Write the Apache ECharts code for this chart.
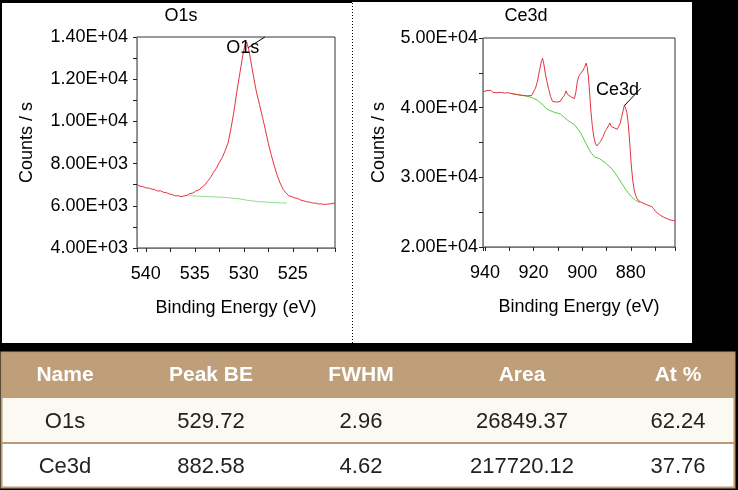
<!DOCTYPE html>
<html>
<head>
<meta charset="utf-8">
<script src="https://cdn.jsdelivr.net/npm/echarts@6/dist/echarts.min.js"></script>
<style>
html,body{margin:0;padding:0;background:#000;}
#chart{width:738px;height:490px;}
</style>
</head>
<body>
<div id="chart"></div>
<script>
// ---------- O1s spectrum ----------
var o1sEnergy = [540.9,540.6,540.3,540.0,539.7,539.4,539.1,538.8,538.5,538.2,537.9,537.6,537.3,537.0,536.7,536.4,536.1,535.8,535.5,535.2,534.9,534.6,534.3,534.0,533.7,533.4,533.1,532.8,532.5,532.2,531.9,531.6,531.3,531.0,530.7,530.4,530.1,529.9,529.72,529.5,529.3,529.0,528.7,528.4,528.1,527.8,527.5,527.2,526.9,526.6,526.3,526.0,525.7,525.4,525.1,524.8,524.5,524.2,523.9,523.6,523.3,523.0,522.7,522.4,522.1,521.8,521.5,521.2,520.9,520.7];
var o1sCounts = [7000,6930,6910,6850,6840,6790,6770,6700,6710,6640,6620,6560,6530,6470,6480,6430,6470,6490,6580,6600,6700,6750,6870,6980,7160,7340,7590,7780,8060,8290,8620,9000,9700,10500,11450,12300,13150,13600,13780,13400,12900,12100,11350,10800,10200,9600,8950,8400,7900,7450,7080,6780,6610,6470,6430,6370,6350,6270,6240,6190,6180,6130,6130,6090,6090,6060,6080,6090,6120,6130];
var o1sBgEnergy = [535.6,534.0,532.0,530.5,529.5,528.5,527.5,526.5,525.6];
var o1sBgCounts = [6480,6440,6400,6330,6250,6200,6170,6140,6130];

// ---------- Ce3d spectrum ----------
var ce3dEnergy = [940.7,940.0,939.2,938.4,937.6,936.8,936.0,935.2,934.4,933.6,932.8,932.0,931.2,930.4,929.6,928.8,928.0,927.2,926.4,925.6,924.8,924.0,923.2,922.4,921.6,920.8,920.0,919.2,918.4,917.6,916.8,916.3,915.8,915.2,914.6,913.8,913.0,912.2,911.4,910.6,909.8,909.0,908.2,907.4,906.6,906.0,905.4,904.8,904.0,903.2,902.6,902.0,901.4,900.8,900.2,899.6,899.0,898.4,897.9,897.4,896.9,896.4,895.8,895.2,894.6,894.0,893.4,892.8,892.2,891.6,891.0,890.4,889.8,889.2,888.6,888.0,887.4,886.8,886.2,885.6,885.0,884.4,883.8,883.2,882.6,882.2,881.6,881.0,880.4,879.8,879.2,878.6,878.0,877.4,876.8,876.2,875.4,874.6,873.8,873.0,872.2,871.4,870.6,869.8,869.0,868.2,867.4,866.6,865.8,865.0,864.2,863.4,862.6,861.8];
var ce3dCounts = [42300,42150,42450,42250,42500,42200,42400,42150,42350,42200,42300,42100,42250,42150,42300,42000,42150,41900,42050,41800,41950,41750,41850,41700,41800,41750,42000,42800,43800,45300,46600,47100,46300,45000,43900,42700,41600,40900,40750,40800,40600,40900,41400,41700,42400,41900,42000,41600,41400,41300,42200,43700,44500,44800,45100,45400,45800,46400,45800,44400,42000,39500,37300,35800,34900,34500,34700,35000,35300,35700,36200,36700,37000,37400,37800,37300,37500,37100,37000,36900,37000,37700,38600,39500,40400,40300,39300,37600,34800,31800,29600,28200,27400,26900,26700,26500,26350,26250,26400,26000,25900,25800,25500,25100,24950,24650,24500,24300,24200,24050,23950,23850,23900,23750];
var ce3dBgEnergy = [929.5,925.0,921.0,918.5,916.5,914.5,912.0,909.0,906.0,903.0,900.5,898.5,896.5,895.0,893.0,890.5,888.0,886.0,884.0,882.0,880.0,878.0,876.2];
var ce3dBgCounts = [42050,41800,41500,41100,40500,39800,39400,39100,38200,37500,36300,34900,33600,32950,32700,32100,31300,30400,29300,28200,27300,26700,26400];

// ---------- peak annotations ----------
var peakLabels = ['O1s','Ce3d'];
var peakLabelPos = [[530.1,13480],[885.5,42500]];
var peakLeader = [[[529.55,13500],[527.85,14000]],[[882.6,40300],[875.8,42800]]];

// ---------- panel titles / axis names ----------
var panelTitles = ['O1s','Ce3d'];
var xAxisName = 'Binding Energy (eV)';
var yAxisName = 'Counts / s';
var xRanges = [[520.7,540.9],[861.8,940.8]];
var yRanges = [[4000,14000],[20000,50000]];
var yIntervals = [2000,10000];

// ---------- quantification table ----------
var tableHeaders = ['Name','Peak BE','FWHM','Area','At %'];
var tableNames = ['O1s','Ce3d'];
var tablePeakBE = ['529.72','882.58'];
var tableFWHM = ['2.96','4.62'];
var tableArea = ['26849.37','217720.12'];
var tableAtPct = ['62.24','37.76'];

function zip(a,b){ return a.map(function(v,i){ return [v,b[i]]; }); }
function sci(v){
  if (v === 0) return '0.00E+00';
  var e = Math.floor(Math.log10(Math.abs(v)) + 1e-9);
  var m = v / Math.pow(10,e);
  return m.toFixed(2) + 'E' + (e<0?'-':'+') + (Math.abs(e)<10?'0':'') + Math.abs(e);
}

var FONT = 'Liberation Sans, Arial, sans-serif';
var chart = echarts.init(document.getElementById('chart'), null, {renderer:'canvas'});

var grids = [
  {left:137, top:37, width:198, height:211},
  {left:483, top:38, width:192, height:209}
];
grids.forEach(function(g){ g.show = true; g.borderColor = '#333'; g.borderWidth = 1; g.backgroundColor = 'transparent'; });

var bgColors = ['#8ee08e','#55d040'];
var tickStyle = {color:'#222', width:1};

var xAxes = [0,1].map(function(i){
  return {
    type:'value', gridIndex:i, inverse:true,
    min:xRanges[i][0], max:xRanges[i][1],
    name:xAxisName, nameLocation:'middle', nameGap:51,
    nameTextStyle:{fontFamily:FONT, fontSize:18, color:'#000'},
    axisLine:{show:true, lineStyle:{color:'#777', width:1}},
    axisTick:{show:true, inside:false, length:4, lineStyle:tickStyle},
    minorTick:{show:true, splitNumber:2, length:4, lineStyle:tickStyle},
    axisLabel:{showMinLabel:false, showMaxLabel:false, margin:17, fontFamily:FONT, fontSize:18, color:'#000'},
    splitLine:{show:false}
  };
});
var yAxes = [0,1].map(function(i){
  return {
    type:'value', gridIndex:i,
    min:yRanges[i][0], max:yRanges[i][1], interval:yIntervals[i],
    name:yAxisName, nameLocation:'middle', nameGap: i===0 ? 101 : 95,
    nameTextStyle:{fontFamily:FONT, fontSize:18, color:'#000'},
    axisLine:{show:true, lineStyle:{color:'#888', width:1}},
    axisTick:{show:true, inside:false, length:4, lineStyle:tickStyle},
    minorTick:{show:true, splitNumber:2, length:4, lineStyle:tickStyle},
    axisLabel:{formatter:sci, margin: i===0 ? 9 : 5, fontFamily:FONT, fontSize:18, color:'#000'},
    splitLine:{show:false}
  };
});

var spectra = [zip(o1sEnergy,o1sCounts), zip(ce3dEnergy,ce3dCounts)];
var backgrounds = [zip(o1sBgEnergy,o1sBgCounts), zip(ce3dBgEnergy,ce3dBgCounts)];

var series = [];
[0,1].forEach(function(i){
  series.push({
    type:'line', xAxisIndex:i, yAxisIndex:i, data:backgrounds[i],
    showSymbol:false, symbol:'none', silent:true, z:2,
    lineStyle:{color:bgColors[i], width:1}
  });
  series.push({
    type:'line', xAxisIndex:i, yAxisIndex:i, data:spectra[i],
    showSymbol:false, symbol:'none', silent:true, z:3,
    lineStyle:{color:'#e3343f', width:1},
    markLine:{
      silent:true, symbol:['none','none'],
      lineStyle:{color:'#000', width:1, type:'solid'},
      label:{show:false},
      data:[[{coord:peakLeader[i][0]},{coord:peakLeader[i][1]}]]
    },
    markPoint:{
      silent:true, symbol:'circle', symbolSize:0,
      label:{show:true, position:'inside', formatter:peakLabels[i], fontFamily:FONT, fontSize:18, color:'#000'},
      data:[{coord:peakLabelPos[i]}]
    }
  });
});

// background panels + table via graphic
var graphic = [];
graphic.push({type:'rect', shape:{x:2,y:3,width:350,height:340}, style:{fill:'#fff'}, z:-10, silent:true});
graphic.push({type:'rect', shape:{x:352,y:2,width:340,height:341}, style:{fill:'#fff'}, z:-10, silent:true});
graphic.push({type:'line', shape:{x1:352.5,y1:3,x2:352.5,y2:343}, style:{stroke:'#000', lineWidth:1, lineDash:[1,2]}, z:-9, silent:true});

var colCenters = [65,211,361,522,678];
var tblLeft = 1, tblRight = 735;
var headTop = 352, headBot = 398, row1Bot = 443, row2Bot = 488;
graphic.push({type:'rect', shape:{x:tblLeft,y:headTop,width:tblRight-tblLeft,height:headBot-headTop}, style:{fill:'#bf9f7a'}, silent:true});
graphic.push({type:'rect', shape:{x:tblLeft,y:headBot,width:tblRight-tblLeft,height:row1Bot-headBot}, style:{fill:'#fcf8f2'}, silent:true});
graphic.push({type:'rect', shape:{x:tblLeft,y:row1Bot,width:tblRight-tblLeft,height:row2Bot-row1Bot}, style:{fill:'#ffffff'}, silent:true});
graphic.push({type:'rect', shape:{x:tblLeft+0.5,y:headTop+0.5,width:tblRight-tblLeft-1,height:row2Bot-headTop-1}, style:{fill:null, stroke:'#b89a74', lineWidth:2}, silent:true});
graphic.push({type:'line', shape:{x1:tblLeft,y1:row1Bot,x2:tblRight,y2:row1Bot}, style:{stroke:'#b89a74', lineWidth:2}, silent:true});

var rows = [
  [tableNames[0], tablePeakBE[0], tableFWHM[0], tableArea[0], tableAtPct[0]],
  [tableNames[1], tablePeakBE[1], tableFWHM[1], tableArea[1], tableAtPct[1]]
];
tableHeaders.forEach(function(h,c){
  graphic.push({type:'text', x:colCenters[c], y:(headTop+headBot)/2, silent:true,
    style:{text:h, fill:'#fff', font:'bold 21px '+FONT, textAlign:'center', textVerticalAlign:'middle'}});
});
var rowCenters = [(headBot+row1Bot)/2+1, (row1Bot+row2Bot)/2+1];
rows.forEach(function(r,ri){
  r.forEach(function(t,c){
    graphic.push({type:'text', x:colCenters[c], y:rowCenters[ri], silent:true,
      style:{text:t, fill:'#222', font:'22px '+FONT, textAlign:'center', textVerticalAlign:'middle'}});
  });
});

var option = {
  backgroundColor:'#000',
  animation:false,
  title:[
    {text:panelTitles[0], left:176, top:2, textAlign:'center', textStyle:{fontFamily:FONT, fontSize:18, fontWeight:'normal', color:'#000'}},
    {text:panelTitles[1], left:521, top:2, textAlign:'center', textStyle:{fontFamily:FONT, fontSize:18, fontWeight:'normal', color:'#000'}}
  ],
  grid:grids,
  xAxis:xAxes,
  yAxis:yAxes,
  series:series,
  graphic:graphic
};
chart.setOption(option);
</script>
</body>
</html>
